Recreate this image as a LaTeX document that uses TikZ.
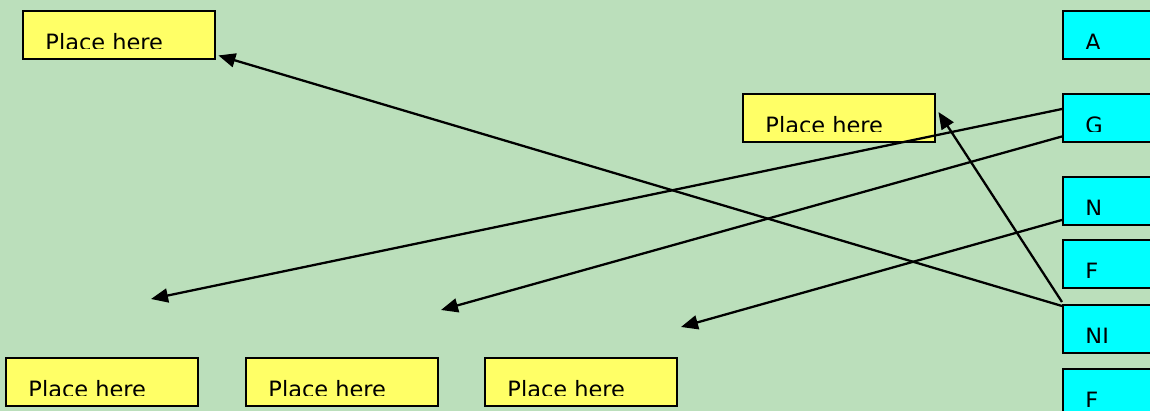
\documentclass[tikz,border=0pt]{standalone}
\usepackage{fontspec}
\setmainfont{DejaVu Sans}
\usetikzlibrary{arrows.meta}
\definecolor{bggreen}{RGB}{187,223,187}
\definecolor{boxyellow}{RGB}{255,255,102}
\definecolor{boxcyan}{RGB}{0,255,255}

\begin{document}
\begin{tikzpicture}
  [x=0.02cm,y=-0.02cm,
  card/.style={draw=black,line width=1.4pt,anchor=north west,inner sep=0pt,minimum width=3.84cm,minimum height=0.96cm},
  yellowcard/.style={card,fill=boxyellow},
  cyancard/.style={card,fill=boxcyan},
  cardtext/.style={path picture={
    \clip (path picture bounding box.north west) rectangle ([yshift=-0.74cm]path picture bounding box.north east);
    \node[anchor=base west,inner sep=0pt,minimum width=0pt,minimum height=0pt,draw=none,fill=none,
      font=\fontsize{12.8}{15}\selectfont] at ([xshift=0.42cm,yshift=-0.78cm]path picture bounding box.north west) {#1};}},
  pointer/.style={line width=1.3pt,-{Triangle[length=0.34cm,width=0.28cm]}}]
  \useasboundingbox (0,0) rectangle (1150,411);
  \clip (0,0) rectangle (1150,411);
  \fill[bggreen] (0,0) rectangle (1150,411);

  \node[yellowcard,cardtext=Place here] (11) at (22,10) {};
  \node[yellowcard,cardtext=Place here] (12) at (742,93) {};
  \node[yellowcard,cardtext=Place here] (13) at (5,357) {};
  \node[yellowcard,cardtext=Place here] (14) at (245,357) {};
  \node[yellowcard,cardtext=Place here] (15) at (484,357) {};

  \node[cyancard,cardtext=A] (21) at (1062,10) {};
  \node[cyancard,cardtext=G] (22) at (1062,93) {};
  \node[cyancard,cardtext=N] (23) at (1062,176) {};
  \node[cyancard,cardtext=F] (24) at (1062,239) {};
  \node[cyancard,cardtext=NI] (25) at (1062,304) {};
  \node[cyancard,cardtext=F] (26) at (1062,368) {};

  \coordinate (31) at (151,299);
  \coordinate (32) at (441,310);
  \coordinate (33) at (681,327);

  \draw[pointer] ([yshift=-0.04cm]25.north west) -- ([xshift=0.04cm,yshift=0.1cm]11.south east);
  \draw[pointer] ([yshift=0.04cm]25.north west) -- ([xshift=0.04cm,yshift=-0.38cm]12.north east);
  \draw[pointer] ([yshift=-0.32cm]22.north west) -- (31);
  \draw[pointer] ([yshift=0.14cm]22.south west) -- (32);
  \draw[pointer] ([yshift=0.13cm]23.south west) -- (33);
\end{tikzpicture}
\end{document}
